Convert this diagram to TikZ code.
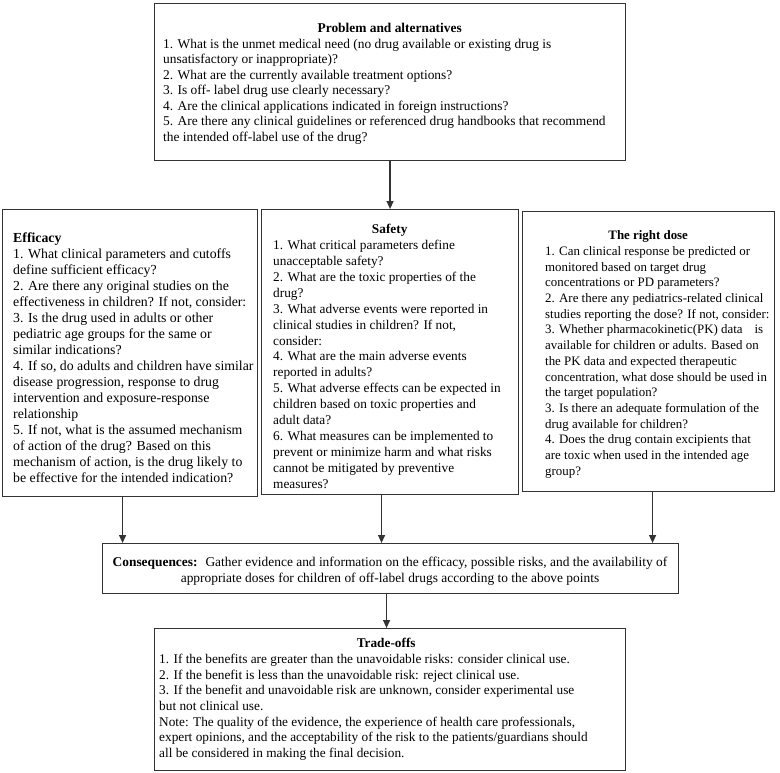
\documentclass[tikz,border=0pt]{standalone}
\usepackage{fontspec}
\setmainfont{Liberation Serif}
\usetikzlibrary{positioning}
\usetikzlibrary{calc}
\usetikzlibrary{arrows.meta}

\begin{document}
\begin{tikzpicture}[x=1pt, y=-1pt]
    \colorlet{border}{black!80}
\colorlet{ink}{black}

\newcommand\gapstrut[1]{\rule{0pt}{#1pt}}
\newcommand\heading[2]{\makebox[#1pt]{\textbf{#2}}}

\useasboundingbox (0, 0) rectangle (780, 772);

\tikzset{
    panel/.style={
        draw=border, line width=1.1pt, rectangle,
        anchor=north west, inner sep=0pt,
    },
    panel text/.style 2 args={
        ink, anchor=north west, inner sep=0pt, align=left,
        font=\fontsize{#1}{#2}\selectfont,
    },
    flow/.style={
        draw=border, line width=1.3pt,
        -{Triangle[length=8pt, width=7pt]},
    },
}

% boxes
\node[panel, minimum width=471pt, minimum height=157pt] (prob) at (154, 3) {};
\node[panel, minimum width=255pt, minimum height=287pt] (eff) at (2, 209) {};
\node[panel, minimum width=257pt, minimum height=285pt] (safe) at (261, 209) {};
\node[panel, minimum width=252pt, minimum height=280pt] (dose) at (522, 211) {};
\node[panel, minimum width=576pt, minimum height=50pt] (cons) at (102, 543) {};
\node[panel, minimum width=471pt, minimum height=142pt] (trade) at (154, 628) {};

% texts
\node[panel text={13.4}{15.5}] (prob-txt) at (163, 3) {\gapstrut{29.5}\heading{453}{Problem and alternatives}\\
    1. What is the unmet medical need (no drug available or existing drug is\\
    unsatisfactory or inappropriate)?\\
    2. What are the currently available treatment options?\\
    3. Is off- label drug use clearly necessary?\\
    4. Are the clinical applications indicated in foreign instructions?\\
    5. Are there any clinical guidelines or referenced drug handbooks that recommend\\
    the intended off-label use of the drug?};

\node[panel text={13.8}{16}] (eff-txt) at (13, 209) {\gapstrut{33.5}\textbf{Efficacy}\\
    1. What clinical parameters and cutoffs\\
    define sufficient efficacy?\\
    2. Are there any original studies on the\\
    effectiveness in children? If not, consider:\\
    3. Is the drug used in adults or other\\
    pediatric age groups for the same or\\
    similar indications?\\
    4. If so, do adults and children have similar\\
    disease progression, response to drug\\
    intervention and exposure-response\\
    relationship\\
    5. If not, what is the assumed mechanism\\
    of action of the drug? Based on this\\
    mechanism of action, is the drug likely to\\
    be effective for the intended indication?};

\node[panel text={13.3}{15.9}] (safe-txt) at (273, 209) {\gapstrut{24.5}\heading{233}{Safety}\\
    1. What critical parameters define\\
    unacceptable safety?\\
    2. What are the toxic properties of the\\
    drug?\\
    3. What adverse events were reported in\\
    clinical studies in children? If not,\\
    consider:\\
    4. What are the main adverse events\\
    reported in adults?\\
    5. What adverse effects can be expected in\\
    children based on toxic properties and\\
    adult data?\\
    6. What measures can be implemented to\\
    prevent or minimize harm and what risks\\
    cannot be mitigated by preventive\\
    measures?};

\node[panel text={12.9}{15.7}] (dose-txt) at (545, 211) {\gapstrut{28.5}\heading{206}{The right dose}\\
    1. Can clinical response be predicted or\\
    monitored based on target drug\\
    concentrations or PD parameters?\\
    2. Are there any pediatrics-related clinical\\
    studies reporting the dose? If not, consider:\\
    3. Whether pharmacokinetic(PK) data\hspace{12pt}is\\
    available for children or adults. Based on\\
    the PK data and expected therapeutic\\
    concentration, what dose should be used in\\
    the target population?\\
    3. Is there an adequate formulation of the\\
    drug available for children?\\
    4. Does the drug contain excipients that\\
    are toxic when used in the intended age\\
    group?};

\node[panel text={13.4}{16}, anchor=north, align=center] (cons-txt) at (390, 543) {\gapstrut{23.5}\textbf{Consequences:}\hspace{8pt}Gather evidence and information on the efficacy, possible risks, and the availability of\\
    appropriate doses for children of off-label drugs according to the above points};

\node[panel text={13.3}{15.7}] (trade-txt) at (159, 628) {\gapstrut{19.5}\heading{454}{Trade-offs}\\
    1. If the benefits are greater than the unavoidable risks: consider clinical use.\\
    2. If the benefit is less than the unavoidable risk: reject clinical use.\\
    3. If the benefit and unavoidable risk are unknown, consider experimental use\\
    but not clinical use.\\
    Note: The quality of the evidence, the experience of health care professionals,\\
    expert opinions, and the acceptability of the risk to the patients/guardians should\\
    all be considered in making the final decision.};

% arrows
\draw[flow] (prob.south) -- (safe.north);
\draw[flow] ([xshift=-7.5pt]eff.south) -- ([xshift=-7.5pt]eff.south |- cons.north);
\draw[flow] ([xshift=-8.5pt]safe.south) -- ([xshift=-8.5pt]safe.south |- cons.north);
\draw[flow] ([xshift=4pt]dose.south) -- ([xshift=4pt]dose.south |- cons.north);
\draw[flow] ([xshift=-4pt]cons.south) -- ([xshift=-4pt]cons.south |- trade.north);
\end{tikzpicture}
\end{document}
